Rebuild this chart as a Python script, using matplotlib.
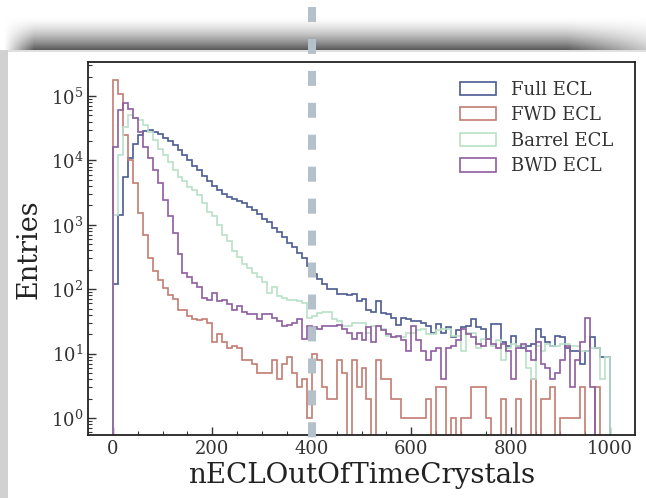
import numpy as np
import matplotlib
matplotlib.use("Agg")
import matplotlib.pyplot as plt
from matplotlib.transforms import blended_transform_factory

# ---------------- data ----------------
bin_edges = np.arange(0, 1001, 10)

full_ecl = [
    120, 1400, 5500, 11000, 18000, 24500, 29000, 30000, 28000, 26000,
    22500, 20000, 17500, 14500, 12000, 10000, 8300, 7000, 5800, 4800,
    4000, 3500, 3000, 2700, 2500, 2300, 2150, 1900, 1700, 1450,
    1250, 1100, 900, 780, 640, 530, 450, 370, 300, 230,
    170, 145, 120, 100, 100, 83, 85, 80, 83, 65,
    70, 48, 45, 65, 42, 41, 36, 28, 36, 34,
    32, 32, 30, 27, 21, 29, 21, 26, 18, 23,
    26, 27, 34, 26, 24, 17, 29, 29, 15, 13,
    19, 13, 12, 13, 14, 24, 18, 15, 13, 19,
    18, 12, 11, 11, 7, 11, 18, 12, 9, 9]

fwd_ecl = [
    178000, 107000, 24500, 10000, 4400, 1500, 700, 300, 190, 140,
    105, 80, 70, 48, 48, 38, 35, 33, 35, 30,
    15, 20, 15, 12, 13, 12, 8, 8, 7, 5,
    5, 5, 8, 4, 7, 9, 5, 3, 4, 1,
    10, 8, 3, 2, 2, 8, 5, 0, 8, 3,
    6, 2, 0, 8, 4, 4, 2, 2, 1, 1,
    1, 1, 1, 2, 0, 3, 3, 0, 1, 0,
    1, 1, 3, 3, 3, 1, 0, 0, 2, 0,
    0, 2, 0, 0, 4, 0, 2, 2, 3, 0,
    1, 1, 1, 1, 3, 0, 0, 3, 0, 0]

barrel_ecl = [
    1400, 12000, 33000, 51000, 46000, 42000, 35000, 27500, 20500, 15000,
    12000, 9500, 7100, 5600, 4700, 3900, 3500, 2900, 2150, 1600,
    1350, 1000, 700, 550, 390, 320, 250, 210, 178, 157,
    130, 87, 110, 77, 73, 69, 69, 65, 61, 36,
    38, 43, 45, 45, 34, 32, 27, 27, 30, 30,
    30, 21, 27, 27, 24, 19, 18, 18, 18, 21,
    21, 23, 24, 20, 20, 23, 24, 24, 19, 19,
    11, 21, 21, 12, 17, 17, 13, 16, 8, 12,
    14, 13, 13, 6, 4, 13, 11, 14, 13, 13,
    14, 14, 13, 13, 11, 11, 12, 12, 4, 9]

bwd_ecl = [
    16000, 61000, 77000, 63000, 45000, 28000, 16000, 10700, 7100, 4400,
    2450, 1350, 740, 350, 178, 157, 125, 110, 74, 69,
    87, 65, 69, 58, 48, 55, 45, 41, 41, 34,
    41, 41, 36, 32, 27, 28, 30, 34, 17, 27,
    26, 24, 27, 27, 27, 28, 24, 21, 17, 21,
    16, 26, 15, 27, 23, 20, 18, 19, 16, 11,
    27, 16, 11, 8, 11, 12, 4, 12, 13, 16,
    24, 20, 18, 14, 13, 17, 14, 12, 14, 11,
    4, 12, 14, 11, 8, 15, 7, 6, 4, 5,
    8, 13, 3, 8, 15, 36, 3, 0, 0, 0]

series = [full_ecl, fwd_ecl, barrel_ecl, bwd_ecl]
labels = ["Full ECL", "FWD ECL", "Barrel ECL", "BWD ECL"]
colors = ["#4b5a90", "#c27d72", "#b9e2c8", "#8e5c9f"]
xticks = [0, 200, 400, 600, 800, 1000]
cut_value = 400

# ---------------- style ----------------
plt.rcParams["font.family"] = ["DejaVu Serif"]
plt.rcParams["mathtext.fontset"] = "dejavuserif"
plt.rcParams["lines.scale_dashes"] = False

W, H = 646, 498
fig = plt.figure(figsize=(W / 100, H / 100), dpi=100)

# screenshot-like background (shadow above the white panel, grey strip on the left)
bg = np.ones((H, W, 3))
yy, xx = np.mgrid[0:H, 0:W]
top = yy < 50
t = np.clip((yy - 16) / 33.0, 0, 1) ** 1.6
fade_l = np.clip((xx - 4) / 30.0, 0, 1)
fade_r = np.clip((W + 40 - xx) / 120.0, 0, 1)
shade = 1 - 0.64 * t * fade_l * fade_r
for c in range(3):
    bg[..., c] = np.where(top, shade, bg[..., c])
strip = (yy >= 50) & (xx < 8)
bg[strip] = 0.82
bg[(yy >= 50) & (yy < 52) & (xx >= 8)] = 0.88
bgax = fig.add_axes([0, 0, 1, 1])
bgax.imshow(bg, aspect="auto", interpolation="bilinear", extent=[0, W, H, 0])
bgax.axis("off")

ax = fig.add_axes([88 / W, (H - 435) / H, (635 - 88) / W, (435 - 62.5) / H])
centers = (bin_edges[:-1] + bin_edges[1:]) / 2
for vals, lab, col in zip(series, labels, colors):
    ax.hist(centers, bins=bin_edges, weights=vals, histtype="step",
            log=True, color=col, lw=1.2, label=lab)

ax.set_xlim(-50, 1050)
ax.set_ylim(0.545, 3.3e5)
ax.set_xticks(xticks)
ax.set_xticks(np.arange(0, 1001, 50), minor=True)
ax.tick_params(which="both", direction="in", top=False, right=False,
               labelsize=13, colors="#333333")
ax.tick_params(which="major", length=6, width=1)
ax.tick_params(which="minor", length=3, width=0.8)
for s in ax.spines.values():
    s.set_linewidth(1.3)
    s.set_color("#222222")
ax.set_xlabel("nECLOutOfTimeCrystals", fontsize=20, color="#222222", labelpad=3)
ax.set_ylabel("Entries", fontsize=19.5, color="#222222", labelpad=6)

ax.legend(loc="upper right", frameon=False, fontsize=13,
          handlelength=2.0, handleheight=0.75, labelspacing=0.42,
          borderaxespad=0.6, bbox_to_anchor=(1 - 4 / 547, 1))
for t_ in ax.get_legend().get_texts():
    t_.set_color("#333333")

# dashed cut line at x = 400, drawn on top of everything
tr = blended_transform_factory(ax.transData, fig.transFigure)
ln, = ax.plot([cut_value, cut_value], [1 - 7 / H, 1 - 440 / H], transform=tr,
              color="#b5c1ca", lw=5.8, solid_capstyle="butt",
              dash_capstyle="butt", clip_on=False, zorder=10)
ln.set_dashes((10.8, 12.2))

fig.savefig("out.png", dpi=100)
